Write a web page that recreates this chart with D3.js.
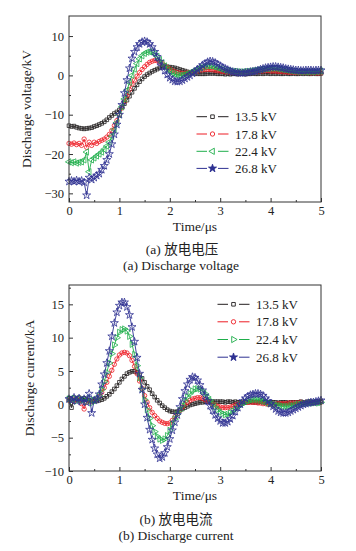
<!DOCTYPE html>
<html><head><meta charset="utf-8">
<script src="https://cdn.jsdelivr.net/npm/d3@7"></script>
<style>body{margin:0;background:#fff}svg{display:block}</style>
</head><body>
<svg id="c" width="356" height="551"></svg>
<script>
const timeStep = 0.05; // µs between samples
const seriesLabels = ["13.5 kV", "17.8 kV", "22.4 kV", "26.8 kV"];
const seriesColors = ["#231f20", "#ed1c24", "#1fae4b", "#2e3192"];

const voltageBlack = [
-12.8,-13.0,-12.9,-13.2,-13.4,-13.5,-13.6,-13.5,-13.4,-13.3,-13.0,-12.8,-12.5,-12.2,-11.8,-11.3,-10.7,-10.2,-9.7,-9.3,-8.8,
-8.0,-7.2,-6.3,-5.3,-4.3,-3.3,-2.4,-1.6,-0.9,-0.3,0.2,0.6,1.0,1.3,1.6,1.9,2.1,2.2,2.2,2.1,
2.0,1.9,1.7,1.5,1.3,1.1,0.9,0.7,0.6,0.5,0.4,0.4,0.4,0.4,0.5,0.5,0.5,0.5,0.4,0.4,
0.4,0.3,0.4,0.3,0.4,0.4,0.3,0.4,0.4,0.3,0.4,0.4,0.5,0.4,0.4,0.5,0.4,0.5,0.5,0.4,
0.5,0.4,0.5,0.4,0.4,0.5,0.4,0.4,0.5,0.4,0.4,0.5,0.4,0.5,0.4,0.4,0.5,0.4,0.4,0.5];
const voltageRed = [
-17.3,-17.5,-17.2,-17.6,-17.3,-17.8,-16.2,-18.3,-17.0,-17.8,-17.0,-17.3,-16.8,-16.5,-16.2,-15.7,-15.0,-14.0,-12.8,-11.5,-10.0,
-8.3,-6.7,-5.1,-3.6,-2.2,-1.2,-0.2,0.7,1.5,2.2,2.8,3.3,3.6,3.8,3.7,3.4,3.0,2.5,2.0,1.6,
1.2,0.9,0.7,0.6,0.5,0.5,0.6,0.7,0.8,1.0,1.1,1.3,1.4,1.5,1.5,1.5,1.4,1.3,1.2,1.1,
1.0,0.9,0.9,0.8,0.8,0.8,0.7,0.8,0.8,0.8,0.9,0.9,1.0,1.0,1.1,1.1,1.1,1.2,1.2,1.1,
1.1,1.1,1.0,1.0,0.9,0.9,0.8,0.8,0.8,0.7,0.7,0.7,0.8,0.7,0.7,0.6,0.7,0.6,0.6,0.6];
const voltageGreen = [
-22.0,-22.2,-22.0,-22.3,-22.1,-22.0,-21.5,-19.5,-24.5,-21.5,-21.0,-20.5,-20.0,-19.5,-18.8,-18.0,-17.0,-15.5,-13.8,-12.0,-10.0,
-8.0,-6.0,-3.8,-1.8,0.0,1.6,3.0,4.2,5.0,5.6,5.9,6.0,5.9,5.5,4.8,4.0,3.2,2.4,1.7,1.1,
0.6,0.3,0.1,0.0,0.1,0.2,0.4,0.7,1.0,1.3,1.6,1.9,2.1,2.3,2.4,2.4,2.3,2.1,1.9,1.7,
1.5,1.3,1.2,1.1,1.0,1.0,0.9,0.9,0.9,1.0,1.0,1.1,1.2,1.3,1.4,1.5,1.6,1.7,1.7,1.8,
1.8,1.8,1.7,1.6,1.5,1.4,1.3,1.2,1.1,1.0,1.0,0.9,1.0,0.9,0.9,1.0,0.9,1.0,1.0,1.1];
const voltageBlue = [
-27.0,-26.8,-27.0,-26.7,-27.0,-26.8,-27.2,-30.5,-26.0,-26.5,-26.0,-25.5,-25.0,-24.0,-23.0,-21.5,-20.0,-17.5,-15.0,-12.5,-10.0,
-7.5,-4.5,-1.2,1.8,4.3,6.0,7.2,8.0,8.5,8.7,8.5,8.0,7.2,6.0,4.7,3.5,2.3,1.2,0.2,-0.6,
-1.1,-1.5,-1.6,-1.5,-1.2,-0.8,-0.4,0.0,0.5,1.0,1.5,2.0,2.6,3.0,3.4,3.6,3.5,3.2,2.8,2.4,
2.0,1.7,1.4,1.1,0.9,0.8,0.7,0.6,0.6,0.7,0.8,0.9,1.0,1.1,1.3,1.5,1.7,1.9,2.0,2.1,
2.2,2.2,2.1,2.0,1.9,1.7,1.6,1.5,1.4,1.3,1.3,1.2,1.2,1.3,1.3,1.3,1.2,1.3,1.3,1.3];

const currentBlack = [
0.9,-0.5,1.0,0.7,1.0,0.8,0.9,0.7,0.6,0.5,0.5,0.5,0.6,0.7,0.9,1.2,1.5,1.9,2.3,2.8,3.3,
3.8,4.2,4.6,4.8,4.95,4.95,4.8,4.4,3.9,3.3,2.7,2.2,1.6,1.1,0.6,0.2,-0.2,-0.5,-0.8,-1.0,
-1.1,-1.15,-1.1,-0.9,-0.7,-0.5,-0.3,-0.1,0.0,0.1,0.2,0.3,0.3,0.4,0.4,0.4,0.4,0.4,0.4,0.4,
0.4,0.3,0.4,0.4,0.3,0.4,0.3,0.3,0.4,0.3,0.3,0.4,0.3,0.3,0.3,0.4,0.3,0.3,0.3,0.3,
0.3,0.3,0.2,0.3,0.3,0.3,0.2,0.3,0.3,0.3,0.3,0.4,0.3,0.3,0.4,0.4,0.3,0.4,0.4,0.5];
const currentRed = [
0.6,0.8,0.5,0.7,0.6,0.1,-0.7,0.3,0.5,0.4,0.6,0.8,1.2,1.8,2.5,3.3,4.2,5.1,6.0,6.8,7.4,
7.7,7.8,7.7,7.3,6.6,5.7,4.6,3.5,2.4,1.3,0.3,-0.5,-1.2,-1.7,-2.1,-2.5,-2.7,-2.85,-2.9,-2.8,
-2.4,-1.9,-1.4,-0.9,-0.4,0.0,0.3,0.6,0.8,0.9,1.0,1.0,0.9,0.7,0.5,0.3,0.1,-0.1,-0.3,-0.4,
-0.5,-0.5,-0.5,-0.4,-0.3,-0.1,0.0,0.1,0.2,0.3,0.3,0.3,0.3,0.3,0.2,0.2,0.1,0.1,0.0,0.0,
0.0,0.0,0.1,0.1,0.1,0.1,0.2,0.2,0.2,0.2,0.2,0.3,0.2,0.3,0.3,0.3,0.2,0.3,0.3,0.3];
const currentGreen = [
0.8,0.6,0.9,0.5,0.8,0.6,0.7,0.4,0.9,0.2,0.6,0.8,1.3,2.2,3.4,4.8,6.2,7.6,8.9,10.0,10.8,
11.2,11.3,11.0,10.2,9.0,7.5,5.8,4.0,2.3,0.7,-0.8,-2.1,-3.2,-4.1,-4.8,-5.2,-5.4,-5.2,-4.7,-3.9,
-3.0,-2.2,-1.5,-0.9,-0.2,0.5,1.1,1.6,2.0,2.3,2.35,2.3,2.0,1.6,1.1,0.6,0.1,-0.4,-0.8,-1.2,
-1.4,-1.55,-1.5,-1.3,-1.0,-0.7,-0.4,-0.1,0.1,0.3,0.5,0.6,0.7,0.7,0.7,0.6,0.5,0.4,0.2,0.1,
0.0,-0.1,-0.2,-0.2,-0.3,-0.3,-0.3,-0.2,-0.2,-0.1,0.0,0.0,0.1,0.1,0.2,0.2,0.2,0.3,0.2,0.3];
const currentBlue = [
0.8,0.6,1.0,0.5,0.9,0.4,0.8,0.3,1.6,-1.3,0.6,0.8,1.5,3.0,4.5,6.2,8.0,10.2,12.2,13.8,14.8,
15.3,15.3,14.6,13.4,11.6,9.4,7.0,4.6,2.2,0.0,-2.0,-3.8,-5.3,-6.6,-7.5,-8.1,-7.9,-7.3,-6.4,-5.2,
-3.9,-2.7,-1.6,-0.4,0.8,2.0,3.0,3.7,4.1,4.0,3.6,2.9,2.1,1.3,0.5,-0.2,-0.9,-1.6,-2.1,-2.5,
-2.8,-2.8,-2.6,-2.2,-1.7,-1.1,-0.5,0.0,0.5,0.9,1.2,1.4,1.5,1.6,1.6,1.5,1.3,0.9,0.5,0.1,
-0.3,-0.7,-1.0,-1.2,-1.3,-1.3,-1.2,-1.0,-0.8,-0.6,-0.4,-0.2,0.0,0.1,0.2,0.3,0.3,0.4,0.5,0.6];

const xTicks = [0, 1, 2, 3, 4, 5];
const xMinorTicks = [0.5, 1.5, 2.5, 3.5, 4.5];
const voltageTicks = [-30, -20, -10, 0, 10];
const voltageMinorTicks = [-25, -15, -5, 5];
const currentTicks = [-10, -5, 0, 5, 10, 15];
const currentMinorTicks = [-7.5, -2.5, 2.5, 7.5, 12.5, 17.5];

const times = voltageBlack.map((_, i) => +(i * timeStep).toFixed(2));

const svg = d3.select("#c");
const SERIF = "'Liberation Serif','Times New Roman','Noto Sans CJK SC',serif";

const panels = [
  {top: 16, bottom: 202, yDomain: [-32.2, 15.1], yTicks: voltageTicks, yMinor: voltageMinorTicks,
   series: [voltageBlack, voltageRed, voltageGreen, voltageBlue],
   yTitle: "Discharge voltage/kV", yTitleX: 30.5, xTitleY: 231, triRot: -90,
   captions: [["(a) 放电电压", 182, 254], ["(a) Discharge voltage", 181, 270]],
   legend: {x: 196.5, rows: [116.7, 134, 151.3, 168.4]}},
  {top: 285, bottom: 471, yDomain: [-10, 17.9], yTicks: currentTicks, yMinor: currentMinorTicks,
   series: [currentBlack, currentRed, currentGreen, currentBlue],
   yTitle: "Discharge current/kA", yTitleX: 33.7, xTitleY: 500, triRot: 90,
   captions: [["(b) 放电电流", 176, 524], ["(b) Discharge current", 176, 540]],
   legend: {x: 217.5, rows: [304.3, 321.8, 339.5, 357.2]}}
];
const left = 69, right = 321;
const x = d3.scaleLinear().domain([0, 5]).range([left, right]);

function markerPath(k, rot) {
  if (k === 0) return {d: d3.symbol(d3.symbolSquare, 13)(), r: 0};
  if (k === 1) return {d: d3.symbol(d3.symbolCircle, 15)(), r: 0};
  if (k === 2) return {d: d3.symbol(d3.symbolTriangle, 17)(), r: rot};
  return {d: d3.symbol(d3.symbolStar, 20)(), r: 0};
}

panels.forEach(p => {
  const y = d3.scaleLinear().domain(p.yDomain).range([p.bottom, p.top]);
  const g = svg.append("g");

  // data
  p.series.forEach((vals, k) => {
    const pts = vals.map((v, i) => [times[i], v]);
    g.append("path")
      .attr("d", d3.line().x(d => x(d[0])).y(d => y(d[1]))(pts))
      .attr("fill", "none").attr("stroke", seriesColors[k]).attr("stroke-width", 0.9);
    const m = markerPath(k, p.triRot);
    g.append("g").selectAll("path").data(pts).join("path")
      .attr("d", m.d)
      .attr("transform", d => `translate(${x(d[0])},${y(d[1])}) rotate(${m.r})`)
      .attr("fill", "none").attr("stroke", seriesColors[k]).attr("stroke-width", 0.8);
  });

  // axes
  const ax = svg.append("g").attr("transform", `translate(0,${p.bottom})`)
    .call(d3.axisBottom(x).tickValues(xTicks).tickSize(-4).tickPadding(4).tickFormat(d3.format("d")));
  svg.append("g").attr("transform", `translate(0,${p.bottom})`)
    .call(d3.axisBottom(x).tickValues(xMinorTicks).tickSize(-2).tickFormat(""));
  const ay = svg.append("g").attr("transform", `translate(${left},0)`)
    .call(d3.axisLeft(y).tickValues(p.yTicks).tickSize(-4).tickPadding(5));
  svg.append("g").attr("transform", `translate(${left},0)`)
    .call(d3.axisLeft(y).tickValues(p.yMinor.filter(v => v > p.yDomain[0] && v < p.yDomain[1])).tickSize(-2).tickFormat(""));
  svg.selectAll(".domain").remove();
  svg.selectAll(".tick line").attr("stroke", "#333");
  [ax, ay].forEach(a => a.selectAll("text").attr("font-family", SERIF).attr("font-size", 12.5).attr("fill", "#222"));

  svg.append("rect").attr("x", left).attr("y", p.top).attr("width", right - left).attr("height", p.bottom - p.top)
    .attr("fill", "none").attr("stroke", "#333").attr("stroke-width", 1);

  // titles
  svg.append("text").attr("transform", `translate(${p.yTitleX},${(p.top + p.bottom) / 2}) rotate(-90)`)
    .attr("text-anchor", "middle").attr("font-family", SERIF).attr("font-size", 13.5).attr("fill", "#222").text(p.yTitle);
  svg.append("text").attr("x", (left + right) / 2).attr("y", p.xTitleY)
    .attr("text-anchor", "middle").attr("font-family", SERIF).attr("font-size", 13.5).attr("fill", "#222").text("Time/μs");
  p.captions.forEach(c => svg.append("text").attr("x", c[1]).attr("y", c[2])
    .attr("text-anchor", "middle").attr("font-family", SERIF).attr("font-size", 13.5).attr("fill", "#222").text(c[0]));

  // legend
  const lg = svg.append("g");
  seriesLabels.forEach((lab, k) => {
    const ry = p.legend.rows[k], lx = p.legend.x;
    lg.append("line").attr("x1", lx).attr("x2", lx + 10.5).attr("y1", ry).attr("y2", ry)
      .attr("stroke", seriesColors[k]).attr("stroke-width", 1);
    lg.append("line").attr("x1", lx + 21.5).attr("x2", lx + 32).attr("y1", ry).attr("y2", ry)
      .attr("stroke", seriesColors[k]).attr("stroke-width", 1);
    const m = markerPath(k, p.triRot);
    lg.append("path").attr("d", m.d).attr("transform", `translate(${lx + 16},${ry}) rotate(${m.r})`)
      .attr("fill", k === 3 ? seriesColors[k] : "none").attr("stroke", seriesColors[k]).attr("stroke-width", 0.9);
    lg.append("text").attr("x", lx + 38.5).attr("y", ry + 4.5)
      .attr("font-family", SERIF).attr("font-size", 13).attr("fill", "#222").text(lab);
  });
});
</script>
</body></html>
